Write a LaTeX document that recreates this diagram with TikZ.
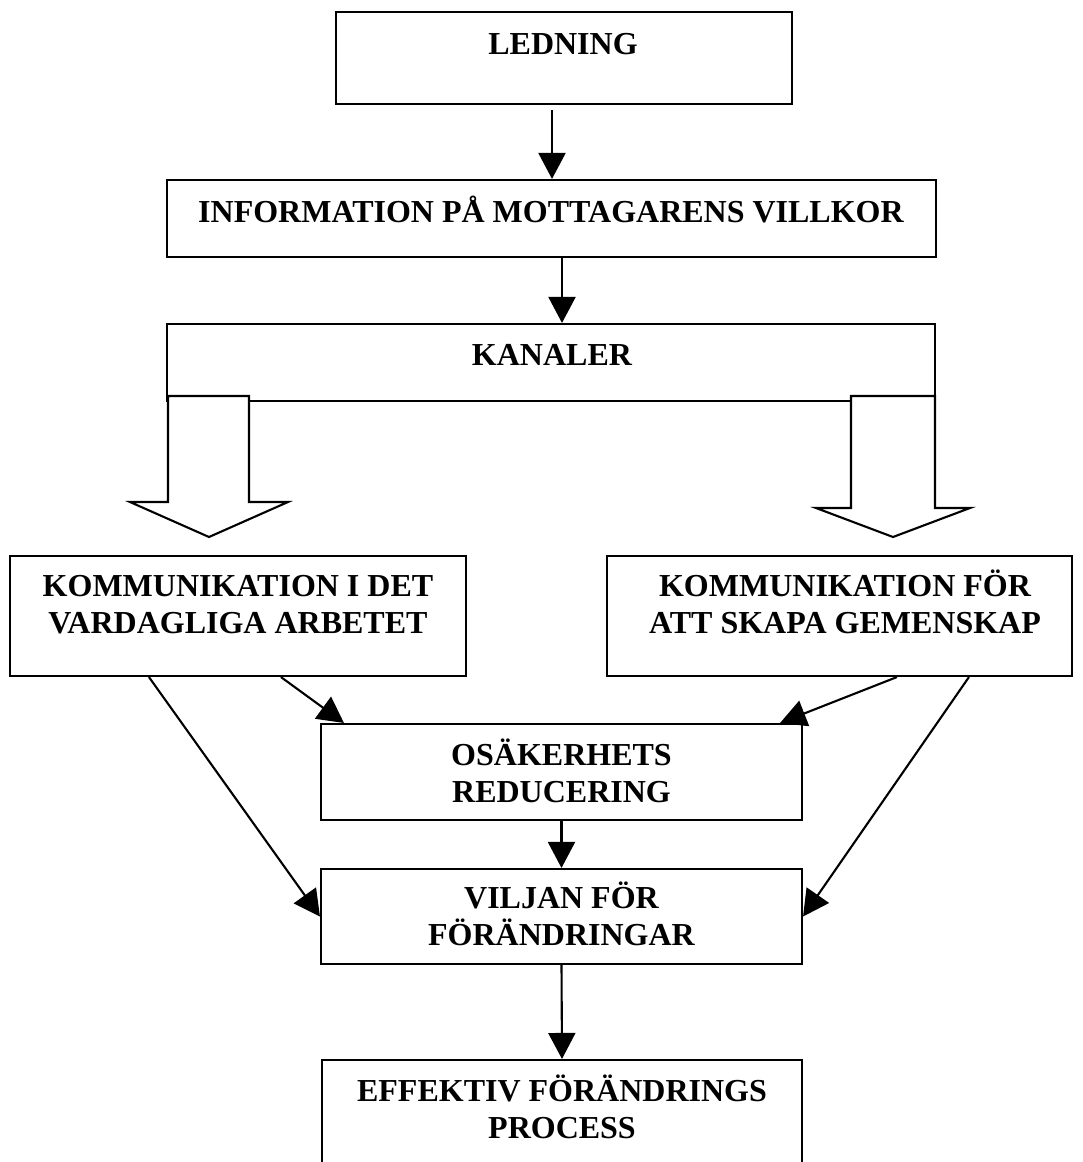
\documentclass[tikz,border=0pt]{standalone}
\usepackage{fontspec}
\setmainfont{Liberation Serif}
\usetikzlibrary{arrows.meta}
\begin{document}
\begin{tikzpicture}[x=1pt,y=-1pt,
  box/.style={draw, line width=2.1pt, rectangle, inner sep=0pt, fill=white},
  txt/.style={font=\bfseries\fontsize{32}{36.5}\selectfont, align=center, inner sep=0pt, anchor=base},
  arr/.style={line width=2.1pt, -{Triangle[length=26pt,width=27pt]}},
  blk/.style={draw, line width=2.1pt, fill=white, line join=miter}]
\fill[white] (0,0) rectangle (1082,1162);
\clip (0,0) rectangle (1082,1162);
\useasboundingbox (0,0) rectangle (1082,1162);

\node[box, minimum width=456pt, minimum height=92pt] (led) at (564,58) {};
\node[box, minimum width=769pt, minimum height=77pt] (info) at (551.5,218.5) {};
\node[box, minimum width=768pt, minimum height=77pt] (kan) at (551,362.5) {};
\node[box, minimum width=456pt, minimum height=120pt] (k1) at (238,616) {};
\node[box, minimum width=465pt, minimum height=120pt] (k2) at (839.5,616) {};
\node[box, minimum width=481pt, minimum height=96pt] (osak) at (561.5,772) {};
\node[box, minimum width=481pt, minimum height=95pt] (vilj) at (561.5,916.5) {};
\node[box, minimum width=480pt, minimum height=130pt] (eff) at (562,1125) {};

\node[txt] (ledT) at (563,54) {LEDNING};
\node[txt] (infoT) at (551,222) {INFORMATION PÅ MOTTAGARENS VILLKOR};
\node[txt] (kanT) at (552,365) {KANALER};
\node[txt] (k1T) at (238,633) {KOMMUNIKATION I DET\\VARDAGLIGA ARBETET};
\node[txt] (k2T) at (845,633) {KOMMUNIKATION FÖR\\ATT SKAPA GEMENSKAP};
\node[txt] (osakT) at (561.5,802) {OSÄKERHETS\\REDUCERING};
\node[txt] (viljT) at (561.5,945) {VILJAN FÖR\\FÖRÄNDRINGAR};
\node[txt] (effT) at (562,1138) {EFFEKTIV FÖRÄNDRINGS\\PROCESS};

% block arrows from KANALER
\draw[blk] (168,396) -- (249,396) -- (249,502) -- (288,502) -- (209,537) -- (130,502) -- (168,502) -- cycle;
\draw[blk] (851,396) -- (935,396) -- (935,508) -- (970,508) -- (893,537) -- (816,508) -- (851,508) -- cycle;

% connectors
\draw[arr] ([xshift=-12pt,yshift=-5pt]led.south) -- ([xshift=-12pt]led.south |- info.north);
\draw[arr] ([xshift=10.5pt]info.south) -- ([xshift=10.5pt]info.south |- kan.north);
\draw[arr] ([xshift=272pt]k1.south west) -- ([xshift=24pt]osak.north west);
\draw[arr] ([xshift=140pt]k1.south west) -- (vilj.west);
\draw[arr] ([xshift=291pt]k2.south west) -- ([xshift=-23pt]osak.north east);
\draw[arr] ([xshift=363pt]k2.south west) -- (vilj.east);
\draw[arr] (osak.south) -- (vilj.north);
\draw[arr] (vilj.south) -- (eff.north);
\end{tikzpicture}
\end{document}
